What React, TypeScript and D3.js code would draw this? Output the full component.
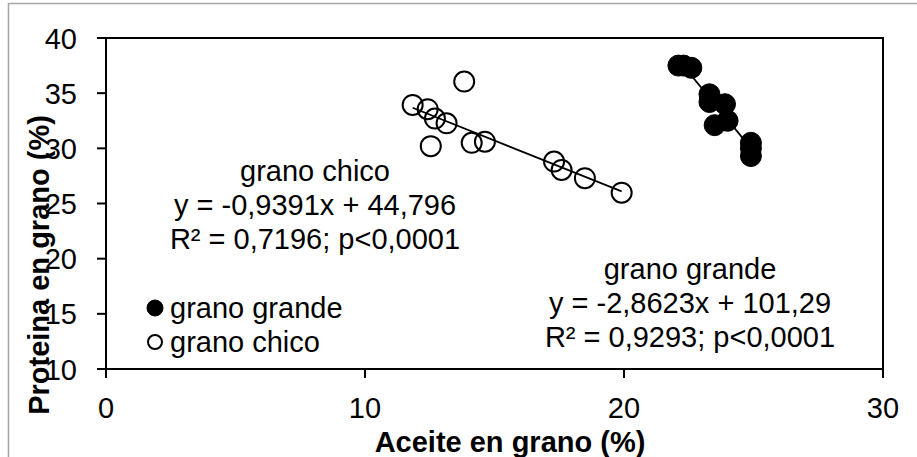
import * as d3 from 'd3';
import React, { useEffect, useRef } from 'react';

// grano chico (open circles)
const chicoX = [11.84, 12.42, 12.7, 13.15, 13.83, 12.54, 14.12, 14.63, 17.3, 17.59, 18.49, 19.91];
const chicoY = [33.93, 33.55, 32.7, 32.27, 36.05, 30.2, 30.5, 30.6, 28.8, 28.04, 27.29, 25.98];
// grano grande (filled circles)
const grandeX = [22.1, 22.3, 22.6, 23.3, 23.3, 23.5, 23.9, 24.0, 24.9, 24.9, 24.9];
const grandeY = [37.5, 37.5, 37.3, 34.9, 34.2, 32.1, 34.0, 32.5, 30.5, 30.0, 29.3];

const xTicks = [0, 10, 20, 30];
const yTicks = [10, 15, 20, 25, 30, 35, 40];

const chicoFit = { slope: -0.9391, intercept: 44.796 };
const grandeFit = { slope: -2.8623, intercept: 101.29 };

const chicoLabel = ['grano chico', 'y = -0,9391x + 44,796', 'R² = 0,7196; p<0,0001'];
const grandeLabel = ['grano grande', 'y = -2,8623x + 101,29', 'R² = 0,9293; p<0,0001'];
const legendLabels = ['grano grande', 'grano chico'];

const FONT = "'Liberation Sans', Arial, sans-serif";

export default function App() {
  const ref = useRef<SVGSVGElement>(null);

  useEffect(() => {
    const svg = d3.select(ref.current);
    svg.selectAll('*').remove();

    const left = 106, right = 883, top = 38, bottom = 369;
    const x = d3.scaleLinear().domain([0, 30]).range([left, right]);
    const y = d3.scaleLinear().domain([10, 40]).range([bottom, top]);

    // outer chart frame (cropped at right/bottom)
    svg.append('rect')
      .attr('x', 8.5).attr('y', 3.5).attr('width', 1000).attr('height', 1000)
      .attr('fill', 'none').attr('stroke', '#a6a6a6').attr('stroke-width', 1.5);

    // plot box
    svg.append('rect')
      .attr('x', left).attr('y', top).attr('width', right - left).attr('height', bottom - top)
      .attr('fill', 'none').attr('stroke', '#000').attr('stroke-width', 2);

    // y ticks
    const yg = svg.append('g');
    yTicks.forEach(t => {
      yg.append('line').attr('x1', left - 9).attr('x2', left).attr('y1', y(t)).attr('y2', y(t))
        .attr('stroke', '#000').attr('stroke-width', 2);
      yg.append('text').attr('x', 77).attr('y', y(t) + 10.5).attr('text-anchor', 'end')
        .attr('font-family', FONT).attr('font-size', 29).text(t);
    });

    // x ticks
    const xg = svg.append('g');
    xTicks.forEach(t => {
      xg.append('line').attr('x1', x(t)).attr('x2', x(t)).attr('y1', bottom).attr('y2', bottom + 9)
        .attr('stroke', '#000').attr('stroke-width', 2);
      xg.append('text').attr('x', x(t)).attr('y', 418).attr('text-anchor', 'middle')
        .attr('font-family', FONT).attr('font-size', 29).text(t);
    });

    // axis titles
    svg.append('text').attr('x', 510).attr('y', 452).attr('text-anchor', 'middle')
      .attr('font-family', FONT).attr('font-size', 29).attr('font-weight', 'bold')
      .text('Aceite en grano (%)');
    svg.append('text').attr('transform', 'translate(49,265) rotate(-90)').attr('text-anchor', 'middle')
      .attr('font-family', FONT).attr('font-size', 29).attr('font-weight', 'bold')
      .text('Proteina en grano (%)');

    // regression lines, drawn over the x range of each group
    const fitLine = (xs: number[], fit: { slope: number; intercept: number }) => {
      const ext = d3.extent(xs) as [number, number];
      svg.append('path')
        .datum(ext.map(v => [x(v), y(fit.slope * v + fit.intercept)] as [number, number]))
        .attr('d', d3.line())
        .attr('stroke', '#000').attr('stroke-width', 1.8).attr('fill', 'none');
    };
    fitLine(chicoX, chicoFit);
    fitLine(grandeX, grandeFit);

    // points
    svg.append('g').selectAll('circle').data(chicoX).enter().append('circle')
      .attr('cx', d => x(d)).attr('cy', (d, i) => y(chicoY[i])).attr('r', 10)
      .attr('fill', 'none').attr('stroke', '#000').attr('stroke-width', 2);
    svg.append('g').selectAll('circle').data(grandeX).enter().append('circle')
      .attr('cx', d => x(d)).attr('cy', (d, i) => y(grandeY[i])).attr('r', 10.5)
      .attr('fill', '#000').attr('stroke', '#000').attr('stroke-width', 1);

    // annotations
    const annot = (lines: string[], cx: number, y0: number) => {
      lines.forEach((s, i) => {
        svg.append('text').attr('x', cx).attr('y', y0 + i * 34).attr('text-anchor', 'middle')
          .attr('font-family', FONT).attr('font-size', 29).text(s);
      });
    };
    annot(chicoLabel, 315, 181);
    annot(grandeLabel, 690, 279);

    // legend
    const lg = svg.append('g');
    legendLabels.forEach((s, i) => {
      const cy = 308 + i * 34;
      lg.append('circle').attr('cx', 155).attr('cy', cy).attr('r', i === 0 ? 8 : 7)
        .attr('fill', i === 0 ? '#000' : 'none').attr('stroke', '#000').attr('stroke-width', i === 0 ? 1 : 2);
      lg.append('text').attr('x', 170).attr('y', cy + 10).attr('font-family', FONT).attr('font-size', 29).text(s);
    });
  }, []);

  return (
    <svg ref={ref} width={917} height={457}
      style={{ position: 'absolute', left: 0, top: 0, background: '#fff' }} />
  );
}
